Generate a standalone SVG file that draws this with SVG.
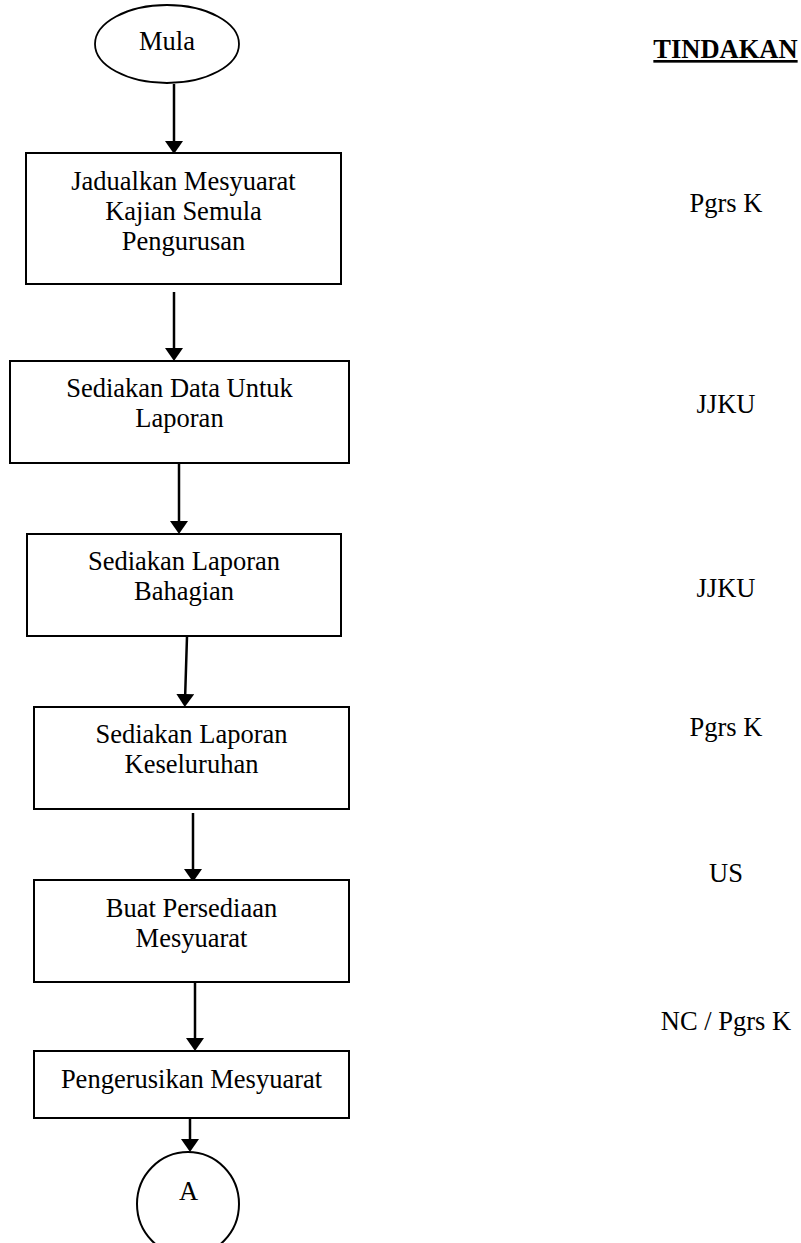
<svg xmlns="http://www.w3.org/2000/svg" width="801" height="1243" viewBox="0 0 801 1243">
<style>
text{font-family:"Liberation Serif","Times New Roman",serif;font-size:26.5px;fill:#000;text-anchor:middle}
.box{fill:#fff;stroke:#000;stroke-width:2}
.term{fill:#fff;stroke:#000;stroke-width:1.8}
.conn{stroke:#000;stroke-width:2.5;fill:none}
.hd{font-weight:bold;text-decoration:underline}
</style>
<defs>
<marker id="ah" markerUnits="userSpaceOnUse" markerWidth="13" markerHeight="18" viewBox="0 0 13 18" refX="0" refY="9" orient="auto">
<path d="M0,0 L13,9 L0,18 Z" fill="#000"/>
</marker>
</defs>
<rect width="801" height="1243" fill="#fff"/>
<g id="connectors">
<line class="conn" x1="174" y1="84" x2="174" y2="141" marker-end="url(#ah)"/>
<line class="conn" x1="174" y1="292" x2="174" y2="348" marker-end="url(#ah)"/>
<line class="conn" x1="179" y1="464" x2="179" y2="521" marker-end="url(#ah)"/>
<line class="conn" x1="187" y1="637" x2="185.2" y2="694" marker-end="url(#ah)"/>
<line class="conn" x1="193" y1="813" x2="193" y2="869" marker-end="url(#ah)"/>
<line class="conn" x1="195" y1="983" x2="195" y2="1038" marker-end="url(#ah)"/>
<line class="conn" x1="190" y1="1119" x2="190" y2="1139" marker-end="url(#ah)"/>
</g>
<g id="mula">
<ellipse class="term" cx="167" cy="44" rx="72" ry="39"/>
<text x="167" y="50">Mula</text>
</g>
<g id="jadualkan">
<rect class="box" x="26" y="153" width="315" height="131"/>
<text x="183.5" y="190">Jadualkan Mesyuarat</text>
<text x="183.5" y="220">Kajian Semula</text>
<text x="183.5" y="250">Pengurusan</text>
</g>
<g id="sediakan-data">
<rect class="box" x="10" y="361" width="339" height="102"/>
<text x="179.5" y="397">Sediakan Data Untuk</text>
<text x="179.5" y="427">Laporan</text>
</g>
<g id="laporan-bahagian">
<rect class="box" x="27" y="534" width="314" height="102"/>
<text x="184" y="570">Sediakan Laporan</text>
<text x="184" y="600">Bahagian</text>
</g>
<g id="laporan-keseluruhan">
<rect class="box" x="34" y="707" width="315" height="102"/>
<text x="191.5" y="743">Sediakan Laporan</text>
<text x="191.5" y="773">Keseluruhan</text>
</g>
<g id="persediaan">
<rect class="box" x="34" y="880" width="315" height="102"/>
<text x="191.5" y="917">Buat Persediaan</text>
<text x="191.5" y="947">Mesyuarat</text>
</g>
<g id="pengerusikan">
<rect class="box" x="34" y="1051" width="315" height="67"/>
<text x="191.5" y="1088">Pengerusikan Mesyuarat</text>
</g>
<g id="connector-a">
<ellipse class="box" cx="188" cy="1204" rx="51" ry="52"/>
<text x="188.5" y="1200">A</text>
</g>
<g id="tindakan">
<text class="hd" x="725.5" y="58">TINDAKAN</text>
<text x="726" y="212">Pgrs K</text>
<text x="726" y="413">JJKU</text>
<text x="726" y="597">JJKU</text>
<text x="726" y="736">Pgrs K</text>
<text x="726" y="882">US</text>
<text x="726" y="1030">NC / Pgrs K</text>
</g>
</svg>
